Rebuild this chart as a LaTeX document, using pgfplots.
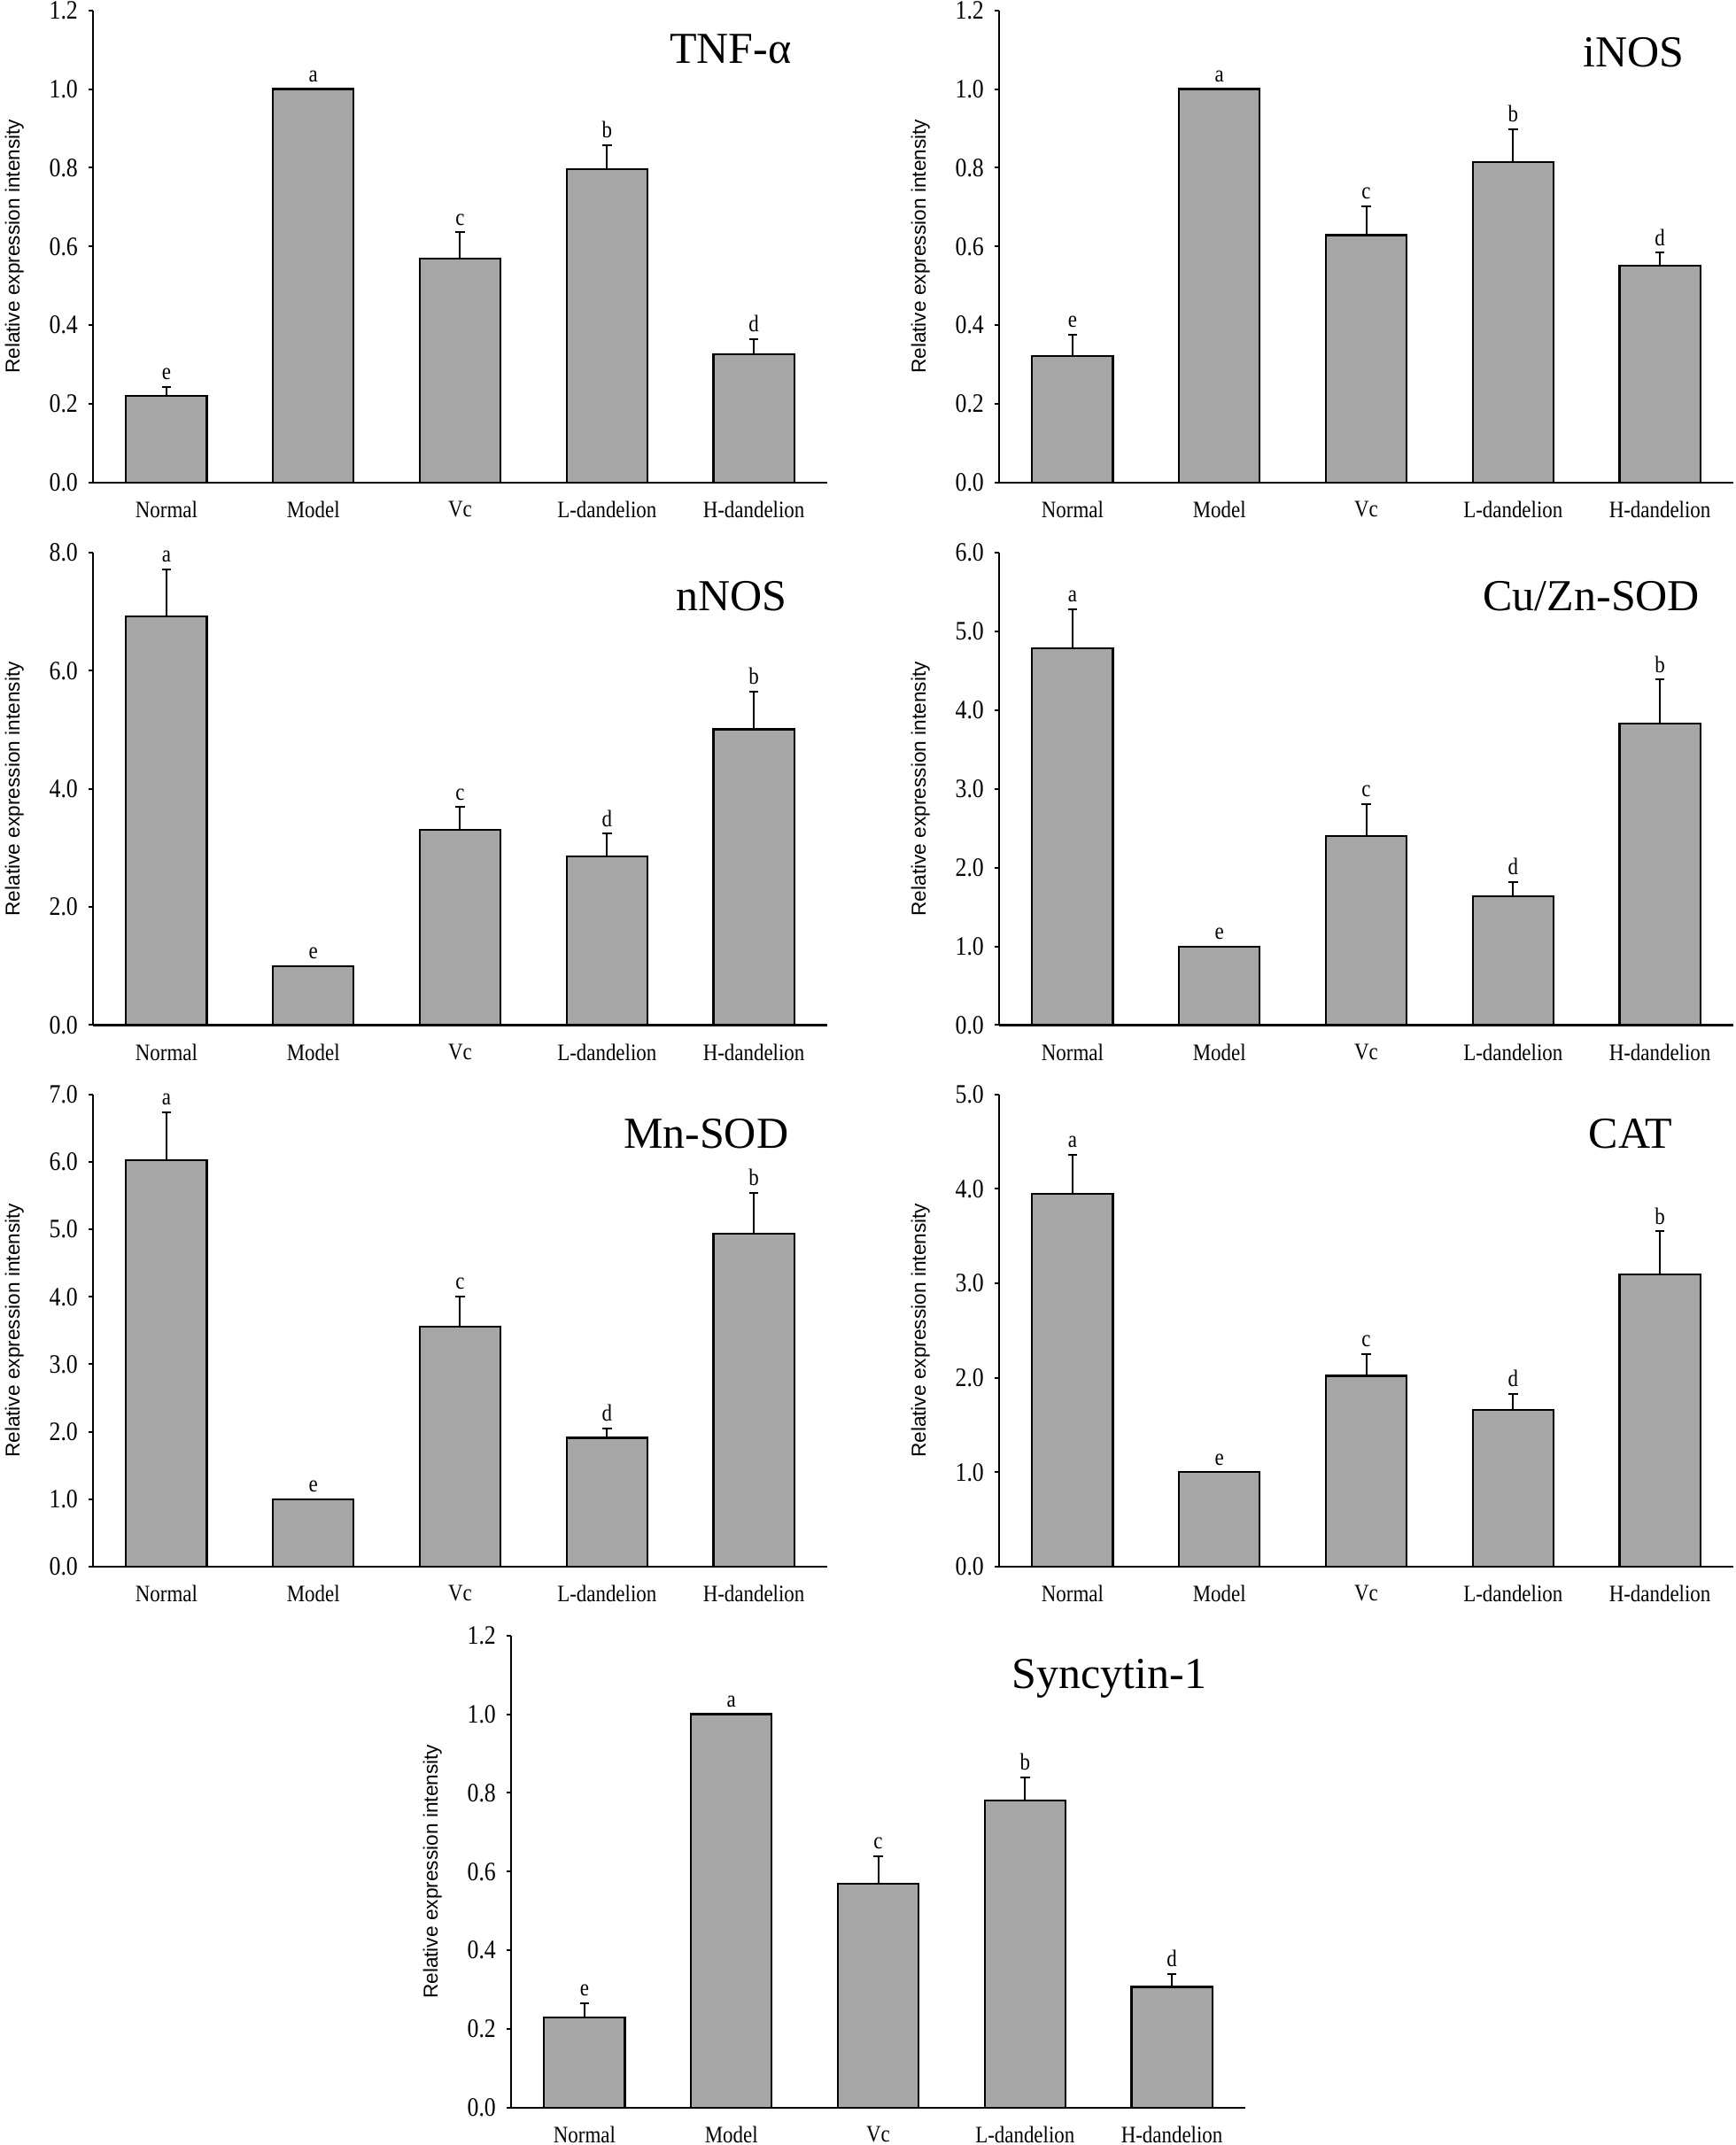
\documentclass[border=0pt]{standalone}
\usepackage{fontspec}
\setmainfont{Liberation Serif}
\newfontfamily\arialfont{Liberation Sans}
\newfontfamily\condfont[FakeStretch=0.86]{Liberation Serif}
\usepackage{pgfplots}
\usepackage{pgfplotstable}
\pgfplotsset{compat=1.18}
\definecolor{barfill}{HTML}{A6A6A6}

\pgfplotstableread{
x val err lab
0 0.221 0.022 e
1 1.000 0.000 a
2 0.569 0.067 c
3 0.796 0.062 b
4 0.327 0.037 d
}\tnf
\pgfplotstableread{
x val err lab
0 0.322 0.054 e
1 1.000 0.000 a
2 0.629 0.074 c
3 0.814 0.084 b
4 0.552 0.032 d
}\inos
\pgfplotstableread{
x val err lab
0 6.92 0.80 a
1 1.00 0.00 e
2 3.31 0.38 c
3 2.86 0.38 d
4 5.01 0.64 b
}\nnos
\pgfplotstableread{
x val err lab
0 4.79 0.49 a
1 1.00 0.00 e
2 2.40 0.41 c
3 1.64 0.18 d
4 3.83 0.56 b
}\cuzn
\pgfplotstableread{
x val err lab
0 6.03 0.70 a
1 1.00 0.00 e
2 3.56 0.44 c
3 1.91 0.14 d
4 4.94 0.60 b
}\mnsod
\pgfplotstableread{
x val err lab
0 3.95 0.41 a
1 1.00 0.00 e
2 2.02 0.23 c
3 1.66 0.17 d
4 3.09 0.46 b
}\cat
\pgfplotstableread{
x val err lab
0 0.229 0.037 e
1 1.000 0.000 a
2 0.569 0.071 c
3 0.781 0.058 b
4 0.307 0.033 d
}\syn

\tikzset{ttl/.style={anchor=east, inner sep=0pt, font=\fontsize{15}{17}\selectfont}}

\pgfplotsset{
  panel/.style={
    scale only axis, width=248.7pt, height=160pt,
    anchor=south west, clip=false,
    xmin=-0.5, xmax=4.5, ymin=0,
    axis x line=bottom, axis y line=left,
    axis line style={-, line width=0.8pt, black},
    xtick={0,...,4},
    xticklabels={Normal,Model,Vc,L-dandelion,H-dandelion},
    major x tick style={draw=none},
    extra x ticks={0.5,1.5,2.5,3.5,4.5},
    extra x tick labels={},
    extra x tick style={major tick length=2pt, tick align=outside},
    tick align=outside, major tick length=1.6pt,
    every tick/.style={black, line width=0.6pt},
    xticklabel style={font=\condfont\fontsize{8}{9}\selectfont, yshift=-1.2pt},
    yticklabel style={font=\condfont\fontsize{9}{10}\selectfont,
      /pgf/number format/fixed, /pgf/number format/fixed zerofill,
      /pgf/number format/precision=1},
    /pgf/number format/assume math mode=true,
    ylabel={Relative expression intensity},
    ylabel style={font=\arialfont\fontsize{6.8}{8}\selectfont,
      at={(axis description cs:-0.107,0.5)}, anchor=center},
  },
  bars/.style={ybar, bar width=0.55, fill=barfill, draw=black, line width=0.65pt,
    error bars/.cd, y dir=plus, y explicit,
    error bar style={line width=0.6pt, black},
    error mark=-,
    error mark options={rotate=90, line width=0.6pt, mark size=1.6pt, black}},
  letters/.style={draw=none, mark=none, nodes near coords,
    point meta=explicit symbolic,
    nodes near coords style={font=\condfont\fontsize{8}{9}\selectfont, anchor=south, inner sep=2.2pt, black}},
}

\begin{document}
\begin{tikzpicture}
\useasboundingbox (0,0) rectangle (588pt,726.6pt);

% TNF-alpha
\begin{axis}[panel, at={(31.5pt,563.1pt)}, ymax=1.2, ytick distance=0.2]
\addplot[bars] table[x=x, y=val, y error=err] {\tnf};
\addplot[letters] table[x=x, y expr=\thisrow{val}+\thisrow{err}, meta=lab] {\tnf};
\node[ttl] at (axis description cs:0.952,0.918) {TNF-α};
\end{axis}

% iNOS
\begin{axis}[panel, at={(338.4pt,563.1pt)}, ymax=1.2, ytick distance=0.2]
\addplot[bars] table[x=x, y=val, y error=err] {\inos};
\addplot[letters] table[x=x, y expr=\thisrow{val}+\thisrow{err}, meta=lab] {\inos};
\node[ttl] at (axis description cs:0.934,0.911) {iNOS};
\end{axis}

% nNOS
\begin{axis}[panel, at={(31.5pt,379.35pt)}, ymax=8, ytick distance=2]
\addplot[bars] table[x=x, y=val, y error=err] {\nnos};
\addplot[letters] table[x=x, y expr=\thisrow{val}+\thisrow{err}, meta=lab] {\nnos};
\node[ttl] at (axis description cs:0.946,0.908) {nNOS};
\end{axis}

% Cu/Zn-SOD
\begin{axis}[panel, at={(338.4pt,379.35pt)}, ymax=6, ytick distance=1]
\addplot[bars] table[x=x, y=val, y error=err] {\cuzn};
\addplot[letters] table[x=x, y expr=\thisrow{val}+\thisrow{err}, meta=lab] {\cuzn};
\node[ttl] at (axis description cs:0.955,0.908) {Cu/Zn-SOD};
\end{axis}

% Mn-SOD
\begin{axis}[panel, at={(31.5pt,195.9pt)}, ymax=7, ytick distance=1]
\addplot[bars] table[x=x, y=val, y error=err] {\mnsod};
\addplot[letters] table[x=x, y expr=\thisrow{val}+\thisrow{err}, meta=lab] {\mnsod};
\node[ttl] at (axis description cs:0.948,0.916) {Mn-SOD};
\end{axis}

% CAT
\begin{axis}[panel, at={(338.4pt,195.9pt)}, ymax=5, ytick distance=1]
\addplot[bars] table[x=x, y=val, y error=err] {\cat};
\addplot[letters] table[x=x, y expr=\thisrow{val}+\thisrow{err}, meta=lab] {\cat};
\node[ttl] at (axis description cs:0.918,0.916) {CAT};
\end{axis}

% Syncytin-1
\begin{axis}[panel, at={(173.1pt,12.6pt)}, ymax=1.2, ytick distance=0.2]
\addplot[bars] table[x=x, y=val, y error=err] {\syn};
\addplot[letters] table[x=x, y expr=\thisrow{val}+\thisrow{err}, meta=lab] {\syn};
\node[ttl] at (axis description cs:0.948,0.908) {Syncytin-1};
\end{axis}
\end{tikzpicture}
\end{document}
